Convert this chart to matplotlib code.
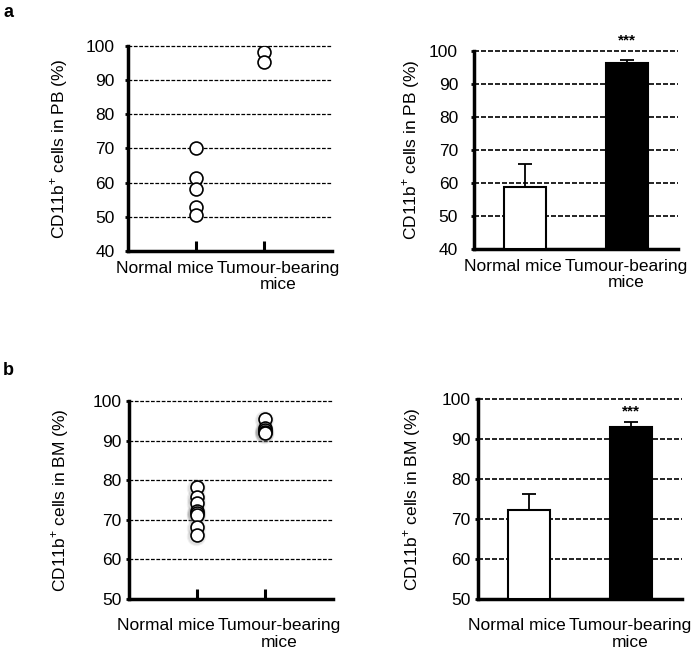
import numpy as np
import matplotlib
matplotlib.use("Agg")
import matplotlib.pyplot as plt

plt.rcParams['font.family'] = ['Liberation Sans', 'DejaVu Sans']
plt.rcParams['mathtext.fontset'] = 'custom'
plt.rcParams['mathtext.rm'] = 'Liberation Sans'

# data
groups = ["Normal mice", "Tumour-bearing\nmice"]

pb_normal = [70.2, 61.4, 58.2, 52.9, 50.4]
pb_tumour = [98.3, 95.3]
pb_means = [58.7, 96.3]
pb_err = [7.0, 1.0]

bm_normal = [78.3, 75.8, 74.3, 72.2, 71.7, 71.2, 68.3, 66.2]
bm_tumour = [95.5, 93.1, 92.6, 92.2, 91.9]
bm_means = [72.2, 93.1]
bm_err = [4.0, 1.2]

pb_label = r'CD11b$^{\mathregular{+}}$ cells in PB (%)'
bm_label = r'CD11b$^{\mathregular{+}}$ cells in BM (%)'

W, H = 697, 654
fig = plt.figure(figsize=(W / 100, H / 100), dpi=100)


def axes_px(left, right, top, bottom):
    return fig.add_axes([left / W, 1 - bottom / H, (right - left) / W, (bottom - top) / H])


def style_axes(ax, ymin, ylabel, lab_x, ypad, grid_lw, dash, label_off, label_pos):
    for s in ['top', 'right']:
        ax.spines[s].set_visible(False)
    ax.spines['left'].set_linewidth(2.5)
    ax.spines['bottom'].set_linewidth(2.5)
    ax.set_ylim(ymin, 100)
    ax.set_yticks(np.arange(ymin, 101, 10))
    ax.tick_params(axis='y', direction='out', length=2.5, width=2, pad=ypad, labelsize=12.5)
    for v in np.arange(ymin + 10, 101, 10):
        ax.axhline(v, color='black', lw=grid_lw, linestyle=(0, dash), zorder=0.5, clip_on=False)
    ax.set_ylabel(ylabel, fontsize=12.5, va='center')
    ax.yaxis.set_label_coords(lab_x, 0.5)
    for name, pos in zip(groups, label_pos):
        ax.annotate(name, xy=(pos, 0), xycoords='axes fraction', xytext=(0, -label_off),
                    textcoords='offset points', ha='center', va='top', fontsize=12.5,
                    multialignment='center', linespacing=1.1)


def dot_panel(ax, normal, tumour, ymin, ylabel, lab_x, ypad, label_off, shadow=False):
    ax.set_xlim(0, 3)
    ax.set_xticks([1, 2])
    ax.set_xticklabels([])
    ax.tick_params(axis='x', direction='in', length=7, width=2.2)
    style_axes(ax, ymin, ylabel, lab_x, ypad, 0.9, (3, 1.3), label_off, (0.182, 0.735))
    for x, vals in [(1, normal), (2, tumour)]:
        vals = np.array(vals)
        xs = np.full(len(vals), x)
        if shadow:
            for ms, a in [(14, 0.10), (12.5, 0.15)]:
                ax.plot(xs - 0.01, vals - 0.35, 'o', ms=ms, color='gray', alpha=a,
                        mew=0, zorder=2)
        ax.plot(xs, vals, 'o', ms=9.3, mfc='white', mec='black', mew=1.2, zorder=3)


def bar_panel(ax, means, err, ymin, ylabel, lab_x, ypad, label_off, star_y):
    x = np.array([1, 2])
    ax.set_xlim(0.5, 2.5)
    ax.set_xticks([])
    style_axes(ax, ymin, ylabel, lab_x, ypad, 1.2, (3, 1.2), label_off, (0.19, 0.748))
    ax.bar(x, np.array(means) - ymin, bottom=ymin, width=0.41, color=['white', 'black'],
           edgecolor='black', linewidth=1.5, zorder=3)
    ax.errorbar(x, means, yerr=[np.zeros(2), err], fmt='none', ecolor='black',
                elinewidth=1.3, capsize=5, capthick=1.3, zorder=4)
    ax.text(2, star_y, '***', ha='center', va='center', fontsize=11, fontweight='bold',
            clip_on=False)


ax1 = axes_px(128, 332, 46, 251)
dot_panel(ax1, pb_normal, pb_tumour, 40, pb_label, -0.338, 7, 7)

ax2 = axes_px(474, 678, 51, 249)
bar_panel(ax2, pb_means, pb_err, 40, pb_label, -0.306, 9, 7, 103.3)

ax3 = axes_px(129, 333, 401, 599)
dot_panel(ax3, bm_normal, bm_tumour, 50, bm_label, -0.338, 3, 14, shadow=True)

ax4 = axes_px(478, 682, 399, 599)
bar_panel(ax4, bm_means, bm_err, 50, bm_label, -0.324, 3, 14, 97.0)

fig.text(3 / W, 1 - 4 / H, 'a', fontsize=13, fontweight='bold', va='top', ha='left')
fig.text(3 / W, 1 - 362 / H, 'b', fontsize=13, fontweight='bold', va='top', ha='left')

fig.savefig('out.png', dpi=100)
